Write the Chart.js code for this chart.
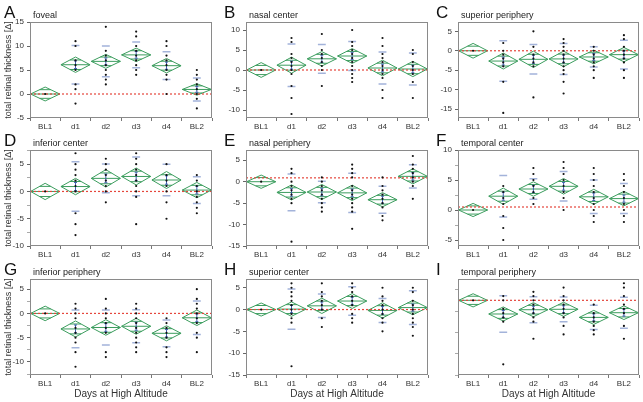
<!DOCTYPE html>
<html>
<head>
<meta charset="utf-8">
<script src="https://cdn.jsdelivr.net/npm/chart.js@4.4.1/dist/chart.umd.min.js"></script>
<style>
  body { margin: 0; background: #fff; }
  #wrap { position: relative; width: 643px; height: 402px; overflow: hidden; }
  canvas { position: absolute; }
</style>
</head>
<body>
<div id="wrap"></div>
<script>
// categories on the x axis
const categories = ['BL1', 'd1', 'd2', 'd3', 'd4', 'BL2'];

// A - foveal
const fovealMeans = [0, 6.1, 6.8, 8.15, 5.9, 0.95];
const fovealCi = [1.45, 1.6, 1.45, 1.4, 1.5, 1.2];
const fovealSd = [0, 4.0, 3.2, 2.7, 2.9, 2.4];
const fovealDots = [[0], [11, 10, 7, 6, 5, 2, 1, -2], [14, 9, 8, 7, 6, 5, 4, 3, 2],
  [13, 12, 10, 9, 8, 7, 6, 5, 4], [11, 10, 8, 7, 6, 5, 4, 3, 0], [5, 4, 3, 2, 1, 0, -1, -3]];

// B - nasal center
const nasalCenterMeans = [0, 1.2, 2.8, 3.5, 0.5, 0.25];
const nasalCenterCi = [1.85, 2.0, 1.8, 1.85, 1.95, 1.9];
const nasalCenterSd = [0, 5.3, 3.6, 3.6, 4.0, 4.0];
const nasalCenterDots = [[0], [8, 7, 4, 3, 2, 1, 0, -1, -4, -7, -11], [9, 5, 4, 3, 2, 1, 0, -4],
  [10, 7, 6, 5, 4, 3, 2, 1, 0, -1, -2, -3], [8, 6, 4, 3, 2, 1, 0, -1, -2, -5, -7], [5, 4, 2, 1, 0, -1, -3, -7]];

// C - superior periphery
const supPeriphMeans = [0, -2.65, -2.2, -2.1, -1.6, -1.0];
const supPeriphCi = [1.9, 2.05, 2.1, 2.0, 1.75, 1.85];
const supPeriphSd = [0, 5.2, 3.8, 4.0, 2.6, 3.7];
const supPeriphDots = [[0], [2, 0, -1, -2, -3, -4, -8, -16], [5, 1, -1, -2, -3, -4, -12],
  [3, 2, 1, 0, -1, -2, -3, -4, -5, -6, -8, -11], [1, 0, -1, -2, -3, -4, -5, -7], [4, 3, 1, 0, -1, -2, -3, -5, -7]];

// D - inferior center
const infCenterMeans = [0, 0.9, 2.4, 2.75, 2.1, 0.25];
const infCenterCi = [1.5, 1.5, 1.6, 1.55, 1.55, 1.4];
const infCenterSd = [0, 4.55, 2.65, 3.55, 2.9, 2.45];
const infCenterDots = [[0], [7, 5, 4, 3, 2, 1, 0, -4, -6, -8], [6, 5, 4, 3, 2, 1, 0, -2],
  [7, 6, 5, 4, 3, 2, 1, 0, -1, -6], [5, 3, 2, 1, 0, -2, -5], [3, 2, 1, 0, -1, -2, -3, -4]];

// E - nasal periphery
const nasalPeriphMeans = [0, -2.5, -2.4, -2.6, -4.2, 1.25];
const nasalPeriphCi = [1.55, 1.75, 1.75, 1.8, 1.65, 1.75];
const nasalPeriphSd = [0, 4.3, 2.5, 4.6, 3.15, 2.7];
const nasalPeriphDots = [[0], [3, 2, 0, -1, -2, -3, -4, -5, -14], [1, 0, -1, -2, -3, -4, -5, -6, -7],
  [4, 3, 2, 1, -1, -2, -3, -4, -5, -6, -7, -11], [1, -1, -2, -3, -4, -5, -6, -8, -9], [6, 4, 3, 2, 1, 0, -1, -4]];

// F - temporal center
const tempCenterMeans = [0, 2.3, 3.5, 3.95, 2.2, 1.9];
const tempCenterCi = [1.1, 1.35, 1.2, 1.3, 1.25, 1.2];
const tempCenterSd = [0, 3.45, 1.7, 2.45, 2.8, 2.5];
const tempCenterDots = [[0], [4, 3, 2, 1, -1, -3, -5], [7, 6, 5, 4, 3, 2, 1],
  [8, 7, 6, 5, 4, 3, 2, 0], [7, 6, 5, 4, 3, 2, 1, 0, -1, -2], [6, 5, 4, 3, 2, 1, 0, -1, -2]];

// G - inferior periphery
const infPeriphMeans = [0, -3.2, -2.9, -2.65, -4.1, -0.9];
const infPeriphCi = [1.5, 1.65, 1.6, 1.65, 1.55, 1.6];
const infPeriphSd = [0, 3.9, 3.6, 3.4, 2.75, 3.45];
const infPeriphDots = [[0], [2, 1, 0, -1, -3, -4, -5, -6, -8, -11], [3, 1, 0, -1, -2, -3, -4, -8, -9],
  [2, 1, 0, -1, -2, -3, -4, -5, -6, -7, -8], [-1, -2, -3, -4, -5, -7, -8, -9], [5, 3, 2, 1, 0, -1, -2, -4, -5, -8]];

// H - superior center
const supCenterMeans = [0, 0.1, 0.85, 1.95, -0.2, 0.45];
const supCenterCi = [1.5, 1.65, 1.75, 1.7, 1.75, 1.65];
const supCenterSd = [0, 4.6, 2.7, 3.25, 2.75, 3.85];
const supCenterDots = [[0], [6, 5, 4, 3, 2, 1, 0, -1, -2, -3, -13], [6, 4, 3, 2, 1, 0, -2, -4],
  [6, 5, 4, 3, 2, 1, -1, -2, -3], [5, 3, 2, 1, 0, -1, -2, -3, -5], [7, 5, 4, 2, 1, 0, -1, -2, -3, -4, -6]];

// I - temporal periphery
const tempPeriphMeans = [0, -3.2, -2.2, -2.1, -4.0, -2.9];
const tempPeriphCi = [1.55, 1.65, 1.65, 1.65, 1.65, 1.6];
const tempPeriphSd = [0, 4.3, 3.05, 2.9, 2.85, 3.65];
const tempPeriphDots = [[0], [1, 0, -2, -3, -4, -5, -15], [2, 1, 0, -1, -2, -3, -4, -5, -9],
  [3, 1, 0, -1, -2, -3, -4, -6, -8], [-1, -3, -4, -5, -6, -7, -8], [4, 3, 1, -1, -2, -3, -6, -9]];

const panels = [
  { letter: 'A', name: 'foveal', means: fovealMeans, ci: fovealCi, sd: fovealSd, dots: fovealDots, yMin: -5, yMax: 15, ref: 0 },
  { letter: 'B', name: 'nasal center', means: nasalCenterMeans, ci: nasalCenterCi, sd: nasalCenterSd, dots: nasalCenterDots, yMin: -12, yMax: 12, ref: 0 },
  { letter: 'C', name: 'superior periphery', means: supPeriphMeans, ci: supPeriphCi, sd: supPeriphSd, dots: supPeriphDots, yMin: -17.3, yMax: 7.4, ref: 0 },
  { letter: 'D', name: 'inferior center', means: infCenterMeans, ci: infCenterCi, sd: infCenterSd, dots: infCenterDots, yMin: -10, yMax: 7.6, ref: 0 },
  { letter: 'E', name: 'nasal periphery', means: nasalPeriphMeans, ci: nasalPeriphCi, sd: nasalPeriphSd, dots: nasalPeriphDots, yMin: -15, yMax: 7.4, ref: 0.9 },
  { letter: 'F', name: 'temporal center', means: tempCenterMeans, ci: tempCenterCi, sd: tempCenterSd, dots: tempCenterDots, yMin: -6, yMax: 10, ref: 0.5 },
  { letter: 'G', name: 'inferior periphery', means: infPeriphMeans, ci: infPeriphCi, sd: infPeriphSd, dots: infPeriphDots, yMin: -12.7, yMax: 7.1, ref: 0 },
  { letter: 'H', name: 'superior center', means: supCenterMeans, ci: supCenterCi, sd: supCenterSd, dots: supCenterDots, yMin: -15, yMax: 7, ref: 0 },
  { letter: 'I', name: 'temporal periphery', means: tempPeriphMeans, ci: tempPeriphCi, sd: tempPeriphSd, dots: tempPeriphDots, yMin: -17.5, yMax: 5, ref: 0 }
];

// plot area positions in the page
const colLeft = [30, 246, 458];
const colWidth = [182, 182, 181];
const rowTop = [22, 150, 279];
const plotH = 96;
const FONT = '"Liberation Sans", Arial, sans-serif';
const HW = 0.48; // half width of a diamond, in category units

function gap(i) { return { x: i, y: null }; }

function diamondPoints(means, ci) {
  const pts = [];
  means.forEach((m, i) => {
    const c = ci[i];
    pts.push({ x: i - HW, y: m }, { x: i, y: m + c }, { x: i + HW, y: m }, { x: i, y: m - c }, { x: i - HW, y: m }, gap(i));
  });
  return pts;
}

function meanLinePoints(means, ci) {
  const pts = [];
  means.forEach((m, i) => {
    pts.push({ x: i - HW, y: m }, { x: i + HW, y: m }, gap(i));
    // overlap marks
    const h = ci[i] * 0.62;
    const w = HW * 0.38;
    pts.push({ x: i - w, y: m + h }, { x: i + w, y: m + h }, gap(i));
    pts.push({ x: i - w, y: m - h }, { x: i + w, y: m - h }, gap(i));
  });
  return pts;
}

function sdPoints(means, sd) {
  const pts = [];
  means.forEach((m, i) => {
    if (!sd[i]) return;
    pts.push({ x: i - 0.13, y: m + sd[i] }, { x: i + 0.13, y: m + sd[i] }, gap(i));
    pts.push({ x: i - 0.13, y: m - sd[i] }, { x: i + 0.13, y: m - sd[i] }, gap(i));
  });
  return pts;
}

function errorPoints(means, ci, sd) {
  const pts = [];
  means.forEach((m, i) => {
    if (!sd[i]) return;
    const se = ci[i] / 2;
    pts.push({ x: i, y: m - se }, { x: i, y: m + se }, gap(i));
    pts.push({ x: i - 0.05, y: m + se }, { x: i + 0.05, y: m + se }, gap(i));
    pts.push({ x: i - 0.05, y: m - se }, { x: i + 0.05, y: m - se }, gap(i));
  });
  return pts;
}

function dotPoints(dots) {
  const pts = [];
  dots.forEach((vals, i) => vals.forEach(v => pts.push({ x: i, y: v })));
  return pts;
}

// box border + panel letter + subtitle
const panelDecor = {
  id: 'panelDecor',
  afterDraw(chart, args, opts) {
    const { ctx, chartArea } = chart;
    ctx.save();
    ctx.strokeStyle = '#8a8a8a';
    ctx.lineWidth = 1;
    ctx.strokeRect(chartArea.left + 0.5, chartArea.top + 0.5, chartArea.right - chartArea.left - 1, chartArea.bottom - chartArea.top - 1);
    ctx.fillStyle = '#111';
    ctx.textBaseline = 'alphabetic';
    ctx.font = '17px ' + FONT;
    ctx.fillText(opts.letter, chartArea.left - opts.letterOffset, chartArea.top - 4);
    ctx.font = '9px ' + FONT;
    ctx.fillStyle = '#222';
    ctx.fillText(opts.name, chartArea.left + 3, chartArea.top - 4);
    ctx.restore();
  }
};

const wrap = document.getElementById('wrap');

panels.forEach((p, k) => {
  const col = k % 3;
  const row = Math.floor(k / 3);
  const L = colLeft[col];
  const T = rowTop[row];
  const W = colWidth[col];
  const XH = row === 2 ? 27 : 12;
  const canvas = document.createElement('canvas');
  canvas.width = 30 + W + 4;
  canvas.height = 22 + plotH + XH;
  canvas.style.left = (L - 30) + 'px';
  canvas.style.top = (T - 22) + 'px';
  wrap.appendChild(canvas);

  const lineSet = (data, color, width, dash) => ({
    data: data, showLine: true, borderColor: color, borderWidth: width, borderDash: dash || [],
    pointRadius: 0, fill: false, tension: 0, spanGaps: false
  });

  new Chart(canvas, {
    type: 'scatter',
    data: {
      datasets: [
        { data: dotPoints(p.dots), showLine: false, pointRadius: 1.1, pointBorderWidth: 0, pointBackgroundColor: '#111' },
        lineSet(errorPoints(p.means, p.ci, p.sd), '#3f5fae', 1),
        lineSet(sdPoints(p.means, p.sd), '#a3b3da', 1.5),
        lineSet([{ x: -0.5, y: p.ref }, { x: 5.5, y: p.ref }], '#e5463c', 1.2, [2, 2]),
        lineSet(meanLinePoints(p.means, p.ci), '#3c9d5e', 1),
        lineSet(diamondPoints(p.means, p.ci), '#3c9d5e', 1)
      ]
    },
    options: {
      responsive: false,
      animation: false,
      devicePixelRatio: 1,
      layout: { padding: { top: 22, right: 4, left: 0, bottom: 0 } },
      plugins: {
        legend: { display: false },
        tooltip: { enabled: false },
        panelDecor: { letter: p.letter, name: p.name, letterOffset: col === 0 ? 26 : 22 }
      },
      scales: {
        x: {
          type: 'linear',
          min: -0.5,
          max: 5.5,
          border: { display: false },
          grid: {
            drawOnChartArea: false,
            drawTicks: true,
            tickLength: 3,
            tickColor: ctx => Number.isInteger(ctx.tick.value) ? 'rgba(0,0,0,0)' : '#777'
          },
          ticks: {
            stepSize: 0.5,
            autoSkip: false,
            maxRotation: 0,
            padding: 1,
            color: '#333',
            font: { size: 8, family: FONT },
            callback: v => Number.isInteger(v) ? categories[v] : ''
          },
          title: {
            display: row === 2,
            text: 'Days at High Altitude',
            color: '#333',
            font: { size: 10, family: FONT },
            padding: { top: 0, bottom: 2 }
          },
          afterFit(scale) { scale.height = XH; }
        },
        y: {
          type: 'linear',
          min: p.yMin,
          max: p.yMax,
          border: { display: false },
          grid: {
            drawOnChartArea: false,
            drawTicks: true,
            tickLength: 3,
            tickColor: ctx => Math.abs(ctx.tick.value % 5) < 1e-6 ? '#666' : '#aaa'
          },
          ticks: {
            stepSize: 2.5,
            includeBounds: false,
            maxTicksLimit: 100,
            padding: 3,
            color: '#333',
            font: { size: 8, family: FONT },
            callback: v => Math.abs(v % 5) < 1e-6 ? String(v) : ''
          },
          title: {
            display: col === 0,
            text: 'total retinal thickness [Δ]',
            color: '#333',
            font: { size: 9, family: FONT },
            padding: { top: 3, bottom: 0 }
          },
          afterFit(scale) { scale.width = 30; }
        }
      }
    },
    plugins: [panelDecor]
  });
});
</script>
</body>
</html>
